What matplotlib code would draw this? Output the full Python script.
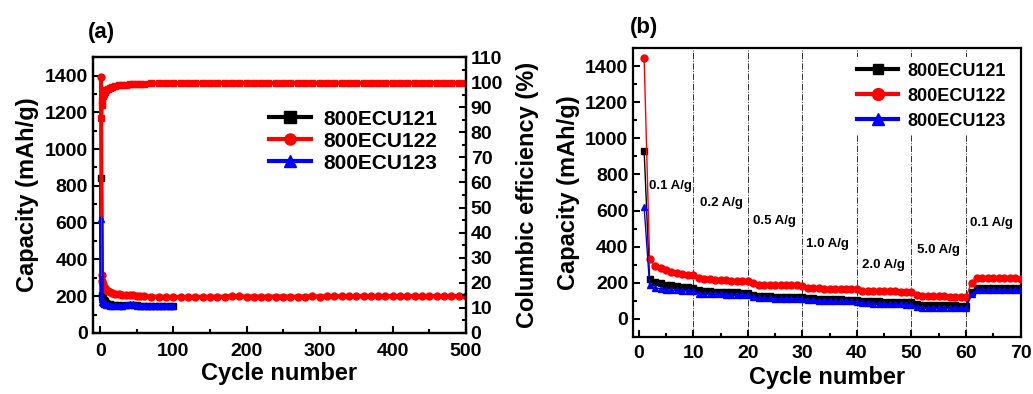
import matplotlib
matplotlib.use("Agg")
import matplotlib.pyplot as plt
from matplotlib.ticker import MultipleLocator

plt.rcParams['font.family'] = ['Liberation Sans', 'DejaVu Sans']
plt.rcParams['font.weight'] = 'bold'
plt.rcParams['axes.labelweight'] = 'bold'

labels = ['800ECU121', '800ECU122', '800ECU123']

# ---- panel (a): long cycling (sampled cycles) ----
cyc_long = [1, 2, 3, 4, 5, 6, 8, 10, 13, 16, 20, 25, 30, 35, 40, 45, 50, 55, 60,
            70, 80, 90, 100, 110, 120, 130, 140, 150, 160, 170, 180, 190, 200,
            210, 220, 230, 240, 250, 260, 270, 280, 290, 300, 310, 320, 330, 340,
            350, 360, 370, 380, 390, 400, 410, 420, 430, 440, 450, 460, 470, 480,
            490, 500]
cap_122_a = [1390, 315, 285, 265, 252, 244, 233, 226, 220, 216, 212, 210, 208, 207,
             205, 204, 202, 200, 199, 198, 197, 196, 196, 196, 195, 196, 196, 196,
             197, 197, 202, 199, 198, 198, 197, 198, 198, 198, 197, 198, 198, 199,
             198, 199, 200, 199, 199, 200, 200, 199, 200, 200, 200, 200, 201, 200,
             200, 200, 201, 200, 200, 201, 200]
ce_122_a = [85.8, 91.0, 93.0, 94.5, 95.3, 96.0, 96.8, 97.3, 97.8, 98.2, 98.5, 98.7,
            98.9, 99.0, 99.1, 99.2, 99.3, 99.3, 99.4, 99.5, 99.5, 99.6, 99.6, 99.6,
            99.6, 99.6, 99.7, 99.7, 99.7, 99.7, 99.7, 99.7, 99.7, 99.7, 99.7, 99.7,
            99.7, 99.7, 99.7, 99.7, 99.7, 99.7, 99.7, 99.7, 99.7, 99.7, 99.7, 99.7,
            99.7, 99.7, 99.7, 99.7, 99.7, 99.7, 99.7, 99.7, 99.7, 99.7, 99.7, 99.7,
            99.7, 99.7, 99.7]
cyc_short = [1, 2, 3, 4, 5, 6, 8, 10, 13, 16, 20, 25, 30, 35, 40, 45, 50, 55, 60,
             65, 70, 75, 80, 85, 90, 95, 100]
cap_121_a = [840, 205, 198, 190, 180, 172, 165, 160, 156, 154, 152, 150, 149, 150,
             152, 152, 150, 149, 148, 148, 148, 147, 147, 147, 147, 146, 146]
cap_123_a = [620, 185, 168, 162, 158, 155, 152, 150, 148, 147, 146, 145, 145, 150,
             156, 155, 148, 146, 145, 145, 145, 145, 144, 144, 144, 144, 144]

# ---- panel (b): rate capability ----
cyc_rate = list(range(1, 71))
cap_121_b = [930, 220, 205, 197, 190, 185, 181, 178, 175, 172,
             158, 154, 152, 150, 149, 148, 147, 146, 145, 145,
             132, 128, 126, 124, 123, 122, 121, 120, 120, 119,
             115, 113, 112, 111, 110, 109, 108, 107, 106, 105,
             100, 98, 97, 96, 95, 94, 93, 92, 92, 91,
             80, 77, 76, 75, 75, 74, 74, 74, 73, 73,
             148, 172, 173, 173, 172, 172, 172, 171, 171, 171]
cap_122_b = [1445, 330, 295, 280, 268, 260, 254, 249, 244, 240,
             228, 222, 219, 217, 215, 214, 212, 211, 210, 209,
             196, 190, 187, 186, 185, 185, 186, 186, 185, 184,
             172, 170, 168, 167, 166, 166, 166, 165, 164, 163,
             155, 154, 154, 153, 153, 152, 152, 151, 150, 150,
             133, 128, 126, 125, 124, 124, 123, 123, 123, 122,
             200, 224, 225, 225, 225, 225, 224, 224, 224, 223]
cap_123_b = [620, 185, 172, 166, 162, 159, 157, 155, 154, 152,
             140, 137, 136, 135, 135, 134, 134, 133, 133, 132,
             120, 116, 114, 113, 112, 111, 111, 110, 110, 110,
             104, 102, 101, 100, 99, 98, 97, 97, 96, 95,
             88, 85, 84, 83, 82, 81, 80, 80, 79, 78,
             66, 62, 60, 59, 58, 58, 58, 58, 58, 58,
             135, 158, 160, 160, 160, 159, 159, 159, 159, 158]
rate_bounds = [10, 20, 30, 40, 50, 60]
rate_text = ['0.1 A/g', '0.2 A/g', '0.5 A/g', '1.0 A/g', '2.0 A/g', '5.0 A/g', '0.1 A/g']
rate_x = [1.8, 11.3, 20.9, 30.6, 40.9, 51.0, 60.7]
rate_y = [738, 640, 542, 417, 300, 380, 530]

colors = ['black', '#ff0000', '#0000ff']


def style_axis(ax):
    for s in ax.spines.values():
        s.set_linewidth(1.6)
    ax.tick_params(which='both', direction='in', width=1.5, labelsize=14)
    ax.tick_params(which='major', length=5)
    ax.tick_params(which='minor', length=3)


fig = plt.figure(figsize=(10.33, 3.94), dpi=100)

# (a)
axa = fig.add_axes([0.090, 0.155, 0.361, 0.700])
axa2 = axa.twinx()
axa.plot(cyc_short, cap_121_a, color=colors[0], marker='s', ms=5, lw=3, label=labels[0])
axa.plot(cyc_long, cap_122_a, color=colors[1], marker='o', ms=5, lw=3, label=labels[1])
axa.plot(cyc_short, cap_123_a, color=colors[2], marker='^', ms=5, lw=3, label=labels[2])
axa2.plot(cyc_long, ce_122_a, color=colors[1], marker='s', ms=5, lw=3)
axa.plot([1, 1], [cap_122_a[0], cap_122_a[1]], color=colors[1], lw=0.8)
axa.set_xlim(-10, 500)
axa.set_ylim(0, 1500)
axa2.set_ylim(0, 110)
axa.xaxis.set_major_locator(MultipleLocator(100))
axa.xaxis.set_minor_locator(MultipleLocator(50))
axa.yaxis.set_major_locator(MultipleLocator(200))
axa.yaxis.set_minor_locator(MultipleLocator(100))
axa2.yaxis.set_major_locator(MultipleLocator(10))
axa2.yaxis.set_minor_locator(MultipleLocator(5))
style_axis(axa)
style_axis(axa2)
axa.tick_params(axis='x', pad=7)
axa.set_xlabel('Cycle number', fontsize=17, labelpad=2)
axa.set_ylabel('Capacity (mAh/g)', fontsize=17, labelpad=4)
axa2.set_ylabel('Columbic efficiency (%)', fontsize=17, labelpad=9)
axa.legend(loc='upper left', bbox_to_anchor=(0.423, 0.878), frameon=False, fontsize=15,
           handlelength=2.0, labelspacing=0.15, markerscale=1.6, handletextpad=0.6)
fig.text(0.085, 0.918, '(a)', fontsize=16, fontweight='bold', va='center')

# (b)
axb = fig.add_axes([0.613, 0.145, 0.375, 0.733])
for xb in rate_bounds:
    axb.axvline(xb, color='#333333', lw=0.7, ls='-.', zorder=1)
axb.plot(cyc_rate, cap_121_b, color=colors[0], marker='s', ms=4.5, lw=1, label=labels[0], zorder=3)
axb.plot(cyc_rate, cap_122_b, color=colors[1], marker='o', ms=5, lw=1, label=labels[1], zorder=3)
axb.plot(cyc_rate, cap_123_b, color=colors[2], marker='^', ms=5, lw=1, label=labels[2], zorder=3)
for tx, ty, tt in zip(rate_x, rate_y, rate_text):
    axb.text(tx, ty, tt, fontsize=9.5, fontweight='bold', va='center', ha='left')
axb.set_xlim(-1, 70)
axb.set_ylim(-100, 1500)
axb.xaxis.set_major_locator(MultipleLocator(10))
axb.xaxis.set_minor_locator(MultipleLocator(5))
axb.yaxis.set_major_locator(MultipleLocator(200))
axb.yaxis.set_minor_locator(MultipleLocator(100))
style_axis(axb)
axb.tick_params(axis='x', pad=6)
axb.set_xlabel('Cycle number', fontsize=17, labelpad=3)
axb.set_ylabel('Capacity (mAh/g)', fontsize=17, labelpad=4)
leg = axb.legend(loc='upper left', bbox_to_anchor=(0.54, 1.0), frameon=True, fontsize=13,
                 handlelength=2.3, labelspacing=0.45, markerscale=1.7, handletextpad=0.5,
                 borderpad=0.3, fancybox=False)
for ln in leg.get_lines():
    ln.set_linewidth(3)
leg.get_frame().set_edgecolor('none')
leg.get_frame().set_facecolor('white')
leg.get_frame().set_alpha(1)
leg.set_zorder(5)
fig.text(0.61, 0.93, '(b)', fontsize=16, fontweight='bold', va='center')

fig.savefig('out.png', dpi=100)
